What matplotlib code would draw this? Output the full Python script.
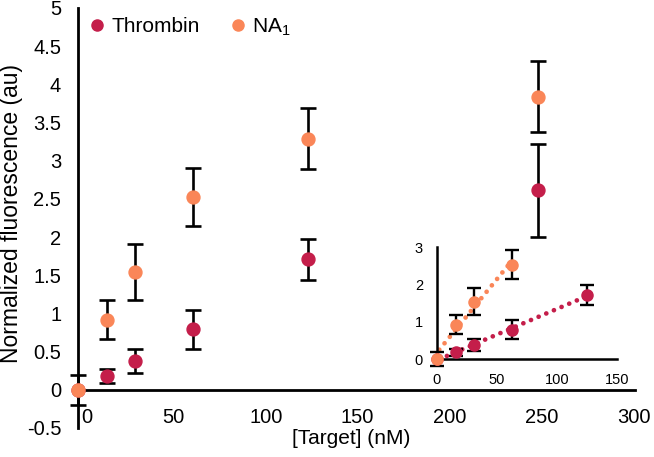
import matplotlib
matplotlib.use("Agg")
import matplotlib.pyplot as plt
import matplotlib.transforms as mtransforms
import numpy as np
from matplotlib.lines import Line2D

plt.rcParams['font.family'] = ['Liberation Sans', 'DejaVu Sans']
plt.rcParams['mathtext.fontset'] = 'custom'
plt.rcParams['mathtext.rm'] = 'Liberation Sans'
plt.rcParams['mathtext.it'] = 'Liberation Sans'

# concentrations (nM)
conc = [0, 15.6, 31.25, 62.5, 125, 250]
thrombin = [0, 0.18, 0.38, 0.79, 1.71, 2.61]
thrombin_err = [0.2, 0.09, 0.16, 0.25, 0.27, 0.61]
na1 = [0, 0.92, 1.54, 2.53, 3.29, 3.84]
na1_err = [0, 0.25, 0.37, 0.38, 0.40, 0.46]

# inset range (linear part)
n_thr_inset = 5   # 0..125 nM
n_na_inset = 4    # 0..62.5 nM

c_thr = '#C41E4A'
c_na = '#FA8658'

xticks = [0, 50, 100, 150, 200, 250, 300]
yticks = [-0.5, 0, 0.5, 1, 1.5, 2, 2.5, 3, 3.5, 4, 4.5, 5]
inset_xticks = [0, 50, 100, 150]
inset_yticks = [0, 1, 2, 3]

fig = plt.figure(figsize=(6.54, 4.57), dpi=100)
ax = fig.add_axes([0.119, 0.0635, 0.852, 0.919])

ebkw = dict(fmt='o', ms=9.3, ecolor='black', elinewidth=1.9, capsize=6, capthick=1.9, clip_on=False)
ax.errorbar(conc, thrombin, yerr=thrombin_err, color=c_thr, zorder=3, **ebkw)
ax.errorbar(conc[1:], na1[1:], yerr=na1_err[1:], color=c_na, zorder=4, **ebkw)
ax.plot(conc[:1], na1[:1], 'o', color=c_na, ms=9.3, clip_on=False, zorder=5)

ax.set_xlim(0, 303)
ax.set_ylim(-0.5, 5)
ax.spines['top'].set_visible(False)
ax.spines['right'].set_visible(False)
ax.spines['bottom'].set_position(('data', 0))
ax.spines['left'].set_linewidth(2)
ax.spines['bottom'].set_linewidth(2)
ax.set_xticks(xticks)
ax.set_xticklabels([str(t) for t in xticks])
ax.set_yticks(yticks)
ax.set_yticklabels([('%g' % t) for t in yticks])
ax.tick_params(axis='both', length=0, labelsize=14.5)
ax.tick_params(axis='x', pad=13)
ax.tick_params(axis='y', pad=12)
for i, lab in enumerate(ax.get_xticklabels()):
    dx = 0.09 if i == 0 else 0.04
    lab.set_transform(lab.get_transform() + mtransforms.ScaledTranslation(dx, 0, fig.dpi_scale_trans))
ax.set_xlabel('[Target] (nM)', fontsize=15)
ax.xaxis.set_label_coords(0.49, -0.003)
ax.set_ylabel('Normalized fluorescence (au)', fontsize=16.5)
ax.yaxis.set_label_coords(-0.098, 0.51)

handles = [Line2D([], [], ls='none', marker='o', color=c_thr, ms=8),
           Line2D([], [], ls='none', marker='o', color=c_na, ms=8)]
ax.legend(handles, ['Thrombin', 'NA$_1$'], loc='upper left', ncol=2, frameon=False,
          fontsize=15, bbox_to_anchor=(-0.021, 1.025), handletextpad=0.1, columnspacing=1.2,
          handlelength=1.2)

# inset
ins = fig.add_axes([0.668, 0.2144, 0.2755, 0.245])
xt = np.array(conc[:n_thr_inset])
yt = np.array(thrombin[:n_thr_inset])
pt = np.polyfit(xt, yt, 1)
xn = np.array(conc[:n_na_inset])
yn = np.array(na1[:n_na_inset])
pn = np.polyfit(xn, yn, 1)
dotted = dict(lw=3.4, ls=(0, (0.01, 1.75)), dash_capstyle='round', zorder=2)
ins.plot([2, xt[-1]], np.polyval(pt, [2, xt[-1]]), color=c_thr, **dotted)
ins.plot([2, xn[-1]], np.polyval(pn, [2, xn[-1]]), color=c_na, **dotted)
ebkw2 = dict(fmt='o', ms=8, ecolor='black', elinewidth=1.7, capsize=4.7, capthick=1.7, clip_on=False)
ins.errorbar(xt, yt, yerr=thrombin_err[:n_thr_inset], color=c_thr, zorder=3, **ebkw2)
ins.errorbar(xn[1:], yn[1:], yerr=na1_err[1:n_na_inset], color=c_na, zorder=4, **ebkw2)
ins.plot(xn[:1], yn[:1], 'o', color=c_na, ms=8, clip_on=False, zorder=5)
ins.set_xlim(0, 150)
ins.set_ylim(0, 3)
ins.patch.set_alpha(0)
ins.spines['top'].set_visible(False)
ins.spines['right'].set_visible(False)
ins.spines['left'].set_linewidth(1.8)
ins.spines['bottom'].set_linewidth(1.8)
ins.set_xticks(inset_xticks)
ins.set_yticks(inset_yticks)
ins.tick_params(axis='both', length=0, labelsize=10.5)
ins.tick_params(axis='x', pad=10)
ins.tick_params(axis='y', pad=10)

fig.savefig('out.png', dpi=100)
